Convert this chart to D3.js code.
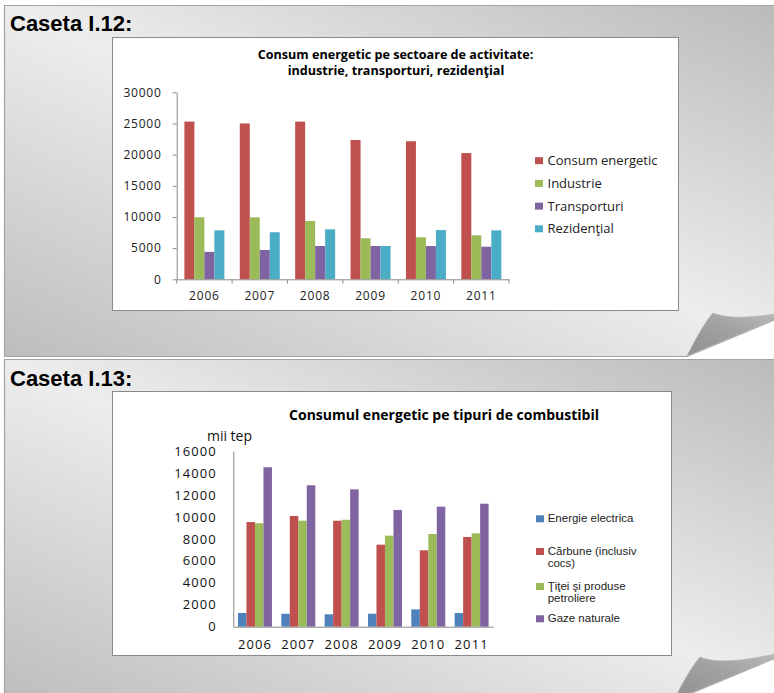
<!DOCTYPE html>
<html>
<head>
<meta charset="utf-8">
<script src="https://cdn.jsdelivr.net/npm/d3@7"></script>
<style>
	body { margin: 0; background: #fff; }
	svg { display: block; }
</style>
</head>
<body>
<div id="page"></div>
<script>
// Caseta I.12 - consum energetic pe sectoare
var years = ['2006', '2007', '2008', '2009', '2010', '2011'];
var sectorSeries = ['Consum energetic', 'Industrie', 'Transporturi', 'Rezidenţial'];
var consumEnergetic = [25300, 25000, 25300, 22350, 22150, 20250];
var industrie = [9950, 9950, 9350, 6580, 6740, 7060];
var transporturi = [4400, 4700, 5340, 5340, 5340, 5230];
var rezidential = [7850, 7550, 8020, 5340, 7900, 7850];
var sectorTicks = [0, 5000, 10000, 15000, 20000, 25000, 30000];

// Caseta I.13 - consum pe tipuri de combustibil
var fuelSeries = ['Energie electrica', 'Cărbune (inclusiv cocs)', 'Ţiţei şi produse petroliere', 'Gaze naturale'];
var fuelLegendLines = [['Energie electrica'], ['Cărbune (inclusiv', 'cocs)'], ['Ţiţei şi produse', 'petroliere'], ['Gaze naturale']];
var energieElectrica = [1250, 1180, 1130, 1180, 1580, 1250];
var carbune = [9530, 10080, 9650, 7470, 6960, 8170];
var titei = [9420, 9650, 9740, 8290, 8440, 8500];
var gazeNaturale = [14520, 12880, 12510, 10630, 10930, 11200];
var fuelTicks = [0, 2000, 4000, 6000, 8000, 10000, 12000, 14000, 16000];

var sectorColors = ['#c0504d', '#9bbb59', '#8064a2', '#4bacc6'];
var fuelColors = ['#4f81bd', '#c0504d', '#9bbb59', '#8064a2'];

var W = 774, H = 693;
var svg = d3.select('#page').append('svg').attr('width', W).attr('height', H);
var defs = svg.append('defs');

// reflected gray gradient of the boxes: light along the TL-BR diagonal
var pg = defs.append('linearGradient').attr('id', 'panelGrad')
	.attr('x1', 1).attr('y1', 0).attr('x2', 0).attr('y2', 1);
pg.append('stop').attr('offset', 0).attr('stop-color', '#b9b9b9');
pg.append('stop').attr('offset', 0.5).attr('stop-color', '#ededed');
pg.append('stop').attr('offset', 1).attr('stop-color', '#bdbdbd');

var fg = defs.append('linearGradient').attr('id', 'flapGrad')
	.attr('x1', 0).attr('y1', 1).attr('x2', 1).attr('y2', 0);
fg.append('stop').attr('offset', 0).attr('stop-color', '#8f8f8f');
fg.append('stop').attr('offset', 0.5).attr('stop-color', '#a3a3a3');
fg.append('stop').attr('offset', 1).attr('stop-color', '#c4c4c4');

function panel(top, tipX, tipY) {
	// tip = bottom point of the folded corner
	var ux = tipX + 26, uy = tipY - 43;
	var slope = -0.414;
	var rightY = tipY + slope * (800 - tipX);
	svg.append('path')
		.attr('d', 'M4.5,' + (top + 0.5) + ' H800 V' + rightY + ' L' + tipX + ',' + (tipY + 0.5) + ' H4.5 Z')
		.attr('fill', 'url(#panelGrad)')
		.attr('stroke', '#a3a3a3')
		.attr('stroke-width', 1.2);
	svg.append('path')
		.attr('d', 'M' + tipX + ',' + tipY +
			' C' + (tipX + 8) + ',' + (tipY - 16) + ' ' + (tipX + 18) + ',' + (tipY - 34) + ' ' + ux + ',' + uy +
			' C' + (ux + 17) + ',' + (uy + 7) + ' ' + (ux + 47) + ',' + (uy + 5) + ' 800,' + rightY + ' Z')
		.attr('fill', 'url(#flapGrad)')
		.attr('stroke', '#b5b5b5')
		.attr('stroke-width', 0.8);
}

panel(5, 687, 356);
panel(359, 674, 700);

svg.append('text').attr('x', 10).attr('y', 30.5)
	.style('font', 'bold 22px "Liberation Sans", Arial, sans-serif')
	.attr('fill', '#000').text('Caseta I.12:');
svg.append('text').attr('x', 10).attr('y', 386)
	.style('font', 'bold 22px "Liberation Sans", Arial, sans-serif')
	.attr('fill', '#000').text('Caseta I.13:');

// chart boxes
svg.append('rect').attr('x', 112.5).attr('y', 37.5).attr('width', 566).attr('height', 273)
	.attr('fill', '#fff').attr('stroke', '#8a8a8a');
svg.append('rect').attr('x', 112.5).attr('y', 391.5).attr('width', 559).attr('height', 264)
	.attr('fill', '#fff').attr('stroke', '#8a8a8a');

var chartFont = '"Open Sans", sans-serif';

// ---------- chart 1 ----------
var g1 = svg.append('g');
var x1 = d3.scaleBand().domain(years).range([176.7, 509]);
var x1s = d3.scaleBand().domain(sectorSeries).range([0, x1.bandwidth()]).paddingOuter(0.77);
var y1 = d3.scaleLinear().domain([0, 30000]).range([279.3, 92.3]);
var sectorValues = [consumEnergetic, industrie, transporturi, rezidential];

sectorSeries.forEach(function(s, si) {
	g1.append('g').selectAll('rect')
		.data(sectorValues[si])
		.enter().append('rect')
		.attr('x', function(d, i) { return x1(years[i]) + x1s(s); })
		.attr('y', function(d) { return y1(d); })
		.attr('width', x1s.bandwidth())
		.attr('height', function(d) { return y1(0) - y1(d); })
		.attr('fill', sectorColors[si]);
});

var yAx1 = g1.append('g').attr('transform', 'translate(176.7,0)')
	.call(d3.axisLeft(y1).tickValues(sectorTicks).tickSize(4).tickSizeOuter(0).tickPadding(11).tickFormat(d3.format('d')));
var xAx1 = g1.append('g').attr('transform', 'translate(0,279.3)')
	.call(d3.axisBottom(x1).tickSize(0).tickPadding(12));
// category boundary ticks
g1.append('g').selectAll('line')
	.data(years.concat(['end']))
	.enter().append('line')
	.attr('x1', function(d, i) { return x1.range()[0] + i * x1.step(); })
	.attr('x2', function(d, i) { return x1.range()[0] + i * x1.step(); })
	.attr('y1', 279.3).attr('y2', 283.5)
	.attr('stroke', '#8a8a8a');

[yAx1, xAx1].forEach(function(ax) {
	ax.selectAll('path, line').attr('stroke', '#8a8a8a');
	ax.selectAll('text').style('font-family', chartFont).style('font-size', '12px')
		.style('letter-spacing', '0.8px').attr('fill', '#222');
});

var title1 = g1.append('text').attr('text-anchor', 'middle')
	.style('font-family', chartFont).style('font-weight', 'bold').style('font-size', '12.6px');
title1.append('tspan').attr('x', 395.5).attr('y', 59).text('Consum energetic pe sectoare de activitate:');
title1.append('tspan').attr('x', 396).attr('y', 75).text('industrie, transporturi, rezidenţial');

var leg1 = g1.append('g').selectAll('g')
	.data(sectorSeries)
	.enter().append('g')
	.attr('transform', function(d, i) { return 'translate(535,' + (160.7 + i * 22.7) + ')'; });
leg1.append('rect').attr('x', 0).attr('y', -3.5).attr('width', 8).attr('height', 7)
	.attr('fill', function(d, i) { return sectorColors[i]; });
leg1.append('text').attr('x', 12.5).attr('y', 4.5)
	.style('font-family', chartFont).style('font-size', '13px').attr('fill', '#222')
	.text(function(d) { return d; });

// ---------- chart 2 ----------
var g2 = svg.append('g');
var x2 = d3.scaleBand().domain(years).range([233.3, 493.3]);
var x2s = d3.scaleBand().domain(fuelSeries).range([0, x2.bandwidth()]).paddingOuter(0.55);
var y2 = d3.scaleLinear().domain([0, 16000]).range([626.7, 451]);
var fuelValues = [energieElectrica, carbune, titei, gazeNaturale];

fuelSeries.forEach(function(s, si) {
	g2.append('g').selectAll('rect')
		.data(fuelValues[si])
		.enter().append('rect')
		.attr('x', function(d, i) { return x2(years[i]) + x2s(s); })
		.attr('y', function(d) { return y2(d); })
		.attr('width', x2s.bandwidth())
		.attr('height', function(d) { return y2(0) - y2(d); })
		.attr('fill', fuelColors[si]);
});

var yAx2 = g2.append('g').attr('transform', 'translate(233.3,0)')
	.call(d3.axisLeft(y2).tickValues(fuelTicks).tickSize(0).tickPadding(16.5).tickFormat(d3.format('d')));
var xAx2 = g2.append('g').attr('transform', 'translate(0,626.7)')
	.call(d3.axisBottom(x2).tickSize(0).tickPadding(13));
[yAx2, xAx2].forEach(function(ax) {
	ax.selectAll('path').attr('stroke', '#8a8a8a');
	ax.selectAll('text').style('font-family', chartFont).style('font-size', '13px')
		.style('letter-spacing', '1.1px').attr('fill', '#111');
});

g2.append('text').attr('x', 444).attr('y', 419.5).attr('text-anchor', 'middle')
	.style('font-family', chartFont).style('font-weight', 'bold').style('font-size', '14px')
	.text('Consumul energetic pe tipuri de combustibil');
g2.append('text').attr('x', 229.5).attr('y', 440.5).attr('text-anchor', 'middle')
	.style('font-family', chartFont).style('font-size', '14px').attr('fill', '#111')
	.text('mii tep');

var legRows2 = [518.3, 551, 586, 618.3];
var leg2 = g2.append('g').selectAll('g')
	.data(fuelLegendLines)
	.enter().append('g')
	.attr('transform', function(d, i) { return 'translate(536,' + legRows2[i] + ')'; });
leg2.append('rect').attr('x', 0).attr('y', -3).attr('width', 8).attr('height', 7)
	.attr('fill', function(d, i) { return fuelColors[i]; });
leg2.append('text')
	.style('font-family', '"Liberation Sans", Arial, sans-serif').style('font-size', '11.5px').attr('fill', '#222')
	.selectAll('tspan')
	.data(function(d) { return d; })
	.enter().append('tspan')
	.attr('x', 11.7)
	.attr('y', function(d, i) { return 4 + i * 12; })
	.text(function(d) { return d; });
</script>
</body>
</html>
